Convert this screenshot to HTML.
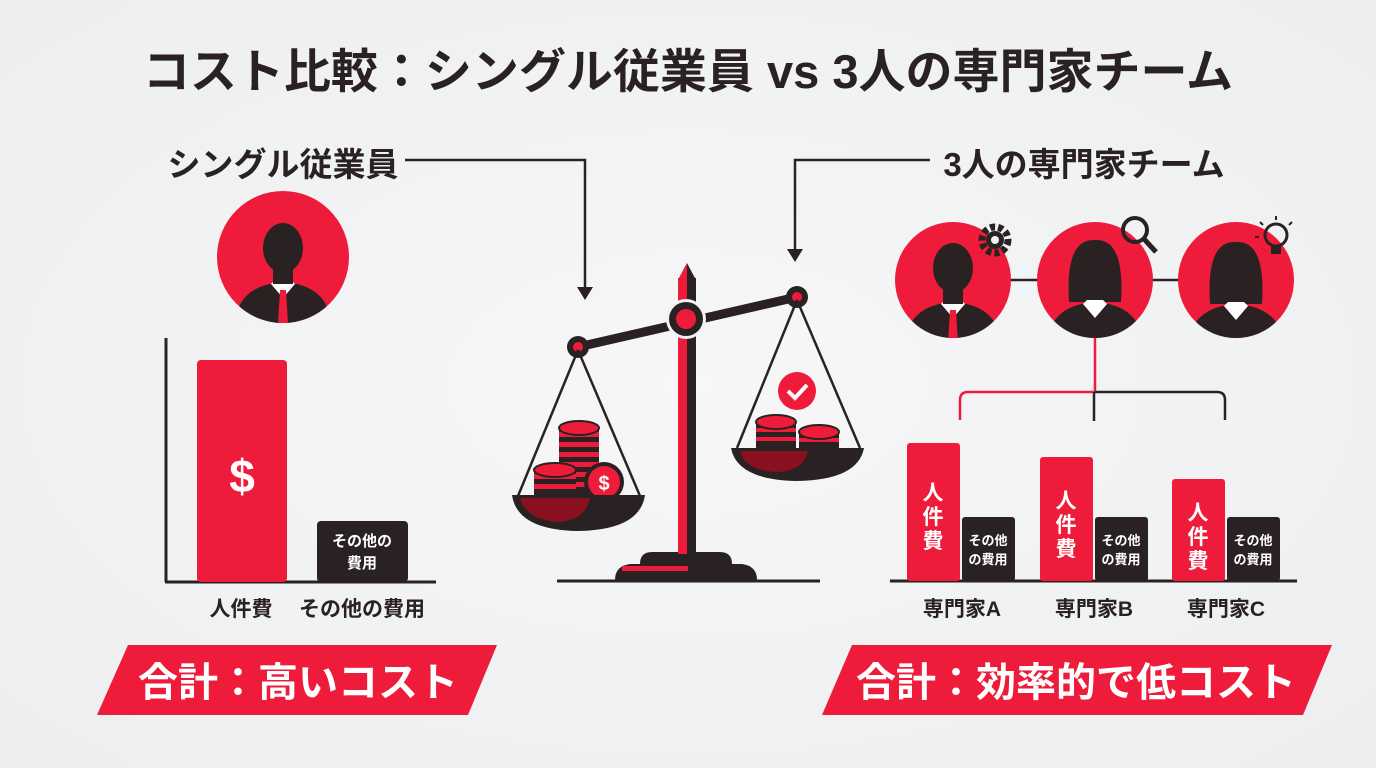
<!DOCTYPE html>
<html><head><meta charset="utf-8"><style>
html,body{margin:0;padding:0;background:#f1f2f4;}
svg{display:block;font-family:"Liberation Sans","Noto Sans CJK JP",sans-serif;}
</style></head><body>
<svg width="1376" height="768" viewBox="0 0 1376 768" xmlns="http://www.w3.org/2000/svg">
<defs>
<radialGradient id="bg" cx="50%" cy="50%" r="70%"><stop offset="0" stop-color="#f7f7f8"/><stop offset="1" stop-color="#eceef0"/></radialGradient>
<g id="man">
<path d="M-48,62 Q-46,30 -14,22 L14,22 Q46,30 48,62 Z" fill="#2a2222"/>
<path d="M-12,22 L0,36 L12,22 L8,18 L-8,18Z" fill="#fff"/>
<path d="M-3,28 L3,28 L5,62 L0,66 L-5,62Z" fill="#ee1c3a"/>
<rect x="-10" y="4" width="20" height="18" fill="#2a2222"/>
<ellipse cx="0" cy="-14" rx="20" ry="25" fill="#2a2222"/>
</g>
<g id="woman">
<path d="M-48,62 Q-46,30 -14,22 L14,22 Q46,30 48,62 Z" fill="#2a2222"/>
<path d="M-26,20 Q-30,-44 0,-42 Q30,-44 26,20 Z" fill="#2a2222"/>
<path d="M-12,22 L0,36 L12,22 L8,18 L-8,18Z" fill="#fff"/>
<ellipse cx="0" cy="-12" rx="18" ry="24" fill="#2a2222"/>
</g>
</defs>
<rect width="1376" height="768" fill="url(#bg)"/>

<text x="688" y="88" text-anchor="middle" font-size="47" font-weight="bold" fill="#2a2222">コスト比較：シングル従業員 vs 3人の専門家チーム</text>

<text x="283" y="176" text-anchor="middle" font-size="33" font-weight="bold" fill="#2a2222">シングル従業員</text>
<text x="1084" y="176" text-anchor="middle" font-size="33" font-weight="bold" fill="#2a2222">3人の専門家チーム</text>

<!-- arrows -->
<polyline points="405,160 585,160 585,290" fill="none" stroke="#2a2222" stroke-width="2.5"/>
<polygon points="577,287 593,287 585,300" fill="#2a2222"/>
<polyline points="930,160 795,160 795,252" fill="none" stroke="#2a2222" stroke-width="2.5"/>
<polygon points="787,249 803,249 795,262" fill="#2a2222"/>

<!-- left avatar -->
<circle cx="283" cy="257" r="66" fill="#ee1c3a"/>
<clipPath id="c1"><circle cx="283" cy="257" r="66"/></clipPath>
<g clip-path="url(#c1)"><use href="#man" x="283" y="262"/></g>

<!-- left chart -->
<line x1="166" y1="338" x2="166" y2="582" stroke="#2a2222" stroke-width="3"/>
<line x1="165" y1="582" x2="436" y2="582" stroke="#2a2222" stroke-width="3"/>
<rect x="197" y="360" width="90" height="222" rx="4" fill="#ee1c3a"/>
<text x="242" y="492" text-anchor="middle" font-size="46" font-weight="bold" fill="#fff">$</text>
<rect x="317" y="521" width="91" height="61" rx="4" fill="#2a2222"/>
<text x="362" y="546" text-anchor="middle" font-size="15" font-weight="bold" fill="#fff">その他の</text>
<text x="362" y="568" text-anchor="middle" font-size="15" font-weight="bold" fill="#fff">費用</text>
<text x="241" y="616" text-anchor="middle" font-size="21" font-weight="bold" fill="#2a2222">人件費</text>
<text x="362" y="616" text-anchor="middle" font-size="21" font-weight="bold" fill="#2a2222">その他の費用</text>

<!-- banners -->
<polygon points="97,715 128,645 497,645 468,715" fill="#ee1c3a"/>
<text x="298" y="696" text-anchor="middle" font-size="40" font-weight="bold" fill="#fff">合計：高いコスト</text>
<polygon points="822,715 852,645 1332,645 1303,715" fill="#ee1c3a"/>
<text x="1076" y="696" text-anchor="middle" font-size="40" font-weight="bold" fill="#fff">合計：効率的で低コスト</text>

<!-- scale -->
<line x1="557" y1="581" x2="820" y2="581" stroke="#2a2222" stroke-width="3"/>
<path d="M615,580 Q615,566 630,564 L640,564 Q640,552 652,552 L720,552 Q732,552 732,564 L742,564 Q757,566 757,580 Z" fill="#2a2222"/>
<rect x="622" y="566" width="66" height="5" fill="#ee1c3a"/>
<rect x="678" y="278" width="18" height="276" fill="#2a2222"/>
<rect x="678" y="278" width="9" height="276" fill="#ee1c3a"/>
<polygon points="678,280 687,263 696,280" fill="#2a2222"/>
<polygon points="678,280 687,263 687,280" fill="#ee1c3a"/>
<line x1="578" y1="347" x2="797" y2="297" stroke="#2a2222" stroke-width="9"/>
<circle cx="686" cy="319" r="20" fill="#f1f2f4"/>
<circle cx="686" cy="319" r="17" fill="#2a2222"/>
<circle cx="686" cy="319" r="10" fill="#ee1c3a"/>
<circle cx="578" cy="347" r="11" fill="#2a2222"/><circle cx="578" cy="347" r="5" fill="#ee1c3a"/>
<circle cx="797" cy="297" r="11" fill="#2a2222"/><circle cx="797" cy="297" r="5" fill="#ee1c3a"/>
<line x1="578" y1="350" x2="518" y2="496" stroke="#2a2222" stroke-width="2.5"/>
<line x1="578" y1="350" x2="640" y2="496" stroke="#2a2222" stroke-width="2.5"/>
<line x1="797" y1="300" x2="737" y2="448" stroke="#2a2222" stroke-width="2.5"/>
<line x1="797" y1="300" x2="860" y2="448" stroke="#2a2222" stroke-width="2.5"/>
<!-- left coins -->
<g>
<rect x="559" y="428" width="40" height="68" fill="#2a2222"/>
<g fill="#ee1c3a"><rect x="559" y="432" width="40" height="5"/><rect x="559" y="442" width="40" height="5"/><rect x="559" y="452" width="40" height="5"/><rect x="559" y="462" width="40" height="5"/><rect x="559" y="472" width="40" height="5"/><rect x="559" y="482" width="40" height="5"/></g>
<ellipse cx="579" cy="428" rx="20" ry="7" fill="#ee1c3a" stroke="#2a2222" stroke-width="2"/>
<rect x="534" y="470" width="42" height="26" fill="#2a2222"/>
<g fill="#ee1c3a"><rect x="534" y="474" width="42" height="5"/><rect x="534" y="484" width="42" height="5"/></g>
<ellipse cx="555" cy="470" rx="21" ry="7" fill="#ee1c3a" stroke="#2a2222" stroke-width="2"/>
<circle cx="604" cy="482" r="20" fill="#2a2222"/><circle cx="604" cy="482" r="16" fill="#ee1c3a"/>
<text x="604" y="490" text-anchor="middle" font-size="20" font-weight="bold" fill="#fff">$</text>
</g>
<path d="M512,495 L645,495 Q640,530 578,531 Q517,530 512,495 Z" fill="#2a2222"/>
<path d="M520,498 L590,498 Q585,522 555,522 Q525,518 520,498 Z" fill="#8a1020"/>
<!-- right coins -->
<rect x="756" y="422" width="40" height="26" fill="#2a2222"/>
<g fill="#ee1c3a"><rect x="756" y="428" width="40" height="4"/><rect x="756" y="437" width="40" height="4"/></g>
<ellipse cx="776" cy="422" rx="20" ry="7" fill="#ee1c3a" stroke="#2a2222" stroke-width="2"/>
<rect x="799" y="432" width="40" height="16" fill="#2a2222"/>
<rect x="799" y="438" width="40" height="4" fill="#ee1c3a"/>
<ellipse cx="819" cy="432" rx="20" ry="7" fill="#ee1c3a" stroke="#2a2222" stroke-width="2"/>
<circle cx="797" cy="391" r="19" fill="#ee1c3a"/>
<polyline points="788,391 795,398 807,385" fill="none" stroke="#fff" stroke-width="4"/>
<path d="M731,448 L864,448 Q858,480 797,481 Q737,480 731,448 Z" fill="#2a2222"/>
<path d="M740,451 L808,451 Q803,472 775,472 Q745,470 740,451 Z" fill="#8a1020"/>

<!-- right avatars -->
<line x1="953" y1="280" x2="1236" y2="280" stroke="#2a2222" stroke-width="2.5"/>
<circle cx="953" cy="280" r="58" fill="#ee1c3a"/>
<circle cx="1095" cy="280" r="58" fill="#ee1c3a"/>
<circle cx="1236" cy="280" r="58" fill="#ee1c3a"/>
<clipPath id="ca"><circle cx="953" cy="280" r="58"/></clipPath>
<clipPath id="cb"><circle cx="1095" cy="280" r="58"/></clipPath>
<clipPath id="cc"><circle cx="1236" cy="280" r="58"/></clipPath>
<g clip-path="url(#ca)"><use href="#man" x="953" y="282"/></g>
<g clip-path="url(#cb)"><use href="#woman" x="1095" y="282"/></g>
<g clip-path="url(#cc)"><use href="#woman" x="1236" y="284"/></g>
<!-- icons -->
<circle cx="995" cy="240" r="13" fill="none" stroke="#2a2222" stroke-width="7" stroke-dasharray="5 3"/>
<circle cx="995" cy="240" r="9" fill="#2a2222"/><circle cx="995" cy="240" r="4" fill="#f1f2f4"/>
<circle cx="1135" cy="230" r="12" fill="none" stroke="#2a2222" stroke-width="4"/>
<line x1="1144" y1="239" x2="1156" y2="252" stroke="#2a2222" stroke-width="5"/>
<circle cx="1276" cy="235" r="11" fill="none" stroke="#2a2222" stroke-width="3"/>
<rect x="1271" y="246" width="10" height="8" fill="#2a2222"/>
<g stroke="#2a2222" stroke-width="2"><line x1="1276" y1="216" x2="1276" y2="220"/><line x1="1260" y1="222" x2="1263" y2="225"/><line x1="1292" y1="222" x2="1289" y2="225"/><line x1="1255" y1="237" x2="1259" y2="237"/></g>
<!-- bracket -->
<line x1="1095" y1="338" x2="1095" y2="392" stroke="#ee1c3a" stroke-width="2.5"/>
<path d="M1095,392 L968,392 Q960,392 960,400 L960,420" fill="none" stroke="#ee1c3a" stroke-width="2.5"/>
<path d="M1095,392 L1217,392 Q1225,392 1225,400 L1225,420 M1094,392 L1094,421" fill="none" stroke="#2a2222" stroke-width="2.5"/>

<!-- right bars -->
<line x1="890" y1="581" x2="1297" y2="581" stroke="#2a2222" stroke-width="3"/>
<g font-weight="bold" fill="#fff" text-anchor="middle">
<rect x="907" y="443" width="53" height="138" rx="3" fill="#ee1c3a"/>
<text x="933" y="500" font-size="21">人</text><text x="933" y="524" font-size="21">件</text><text x="933" y="548" font-size="21">費</text>
<rect x="962" y="517" width="53" height="64" rx="3" fill="#2a2222"/>
<text x="988" y="545" font-size="13">その他</text><text x="988" y="564" font-size="13">の費用</text>
<rect x="1040" y="457" width="53" height="124" rx="3" fill="#ee1c3a"/>
<text x="1066" y="508" font-size="21">人</text><text x="1066" y="532" font-size="21">件</text><text x="1066" y="556" font-size="21">費</text>
<rect x="1095" y="517" width="53" height="64" rx="3" fill="#2a2222"/>
<text x="1121" y="545" font-size="13">その他</text><text x="1121" y="564" font-size="13">の費用</text>
<rect x="1172" y="479" width="53" height="102" rx="3" fill="#ee1c3a"/>
<text x="1198" y="520" font-size="21">人</text><text x="1198" y="544" font-size="21">件</text><text x="1198" y="568" font-size="21">費</text>
<rect x="1227" y="517" width="53" height="64" rx="3" fill="#2a2222"/>
<text x="1253" y="545" font-size="13">その他</text><text x="1253" y="564" font-size="13">の費用</text>
</g>
<g font-size="21" font-weight="bold" fill="#2a2222" text-anchor="middle">
<text x="962" y="616">専門家A</text><text x="1094" y="616">専門家B</text><text x="1226" y="616">専門家C</text>
</g>
</svg>
</body></html>
